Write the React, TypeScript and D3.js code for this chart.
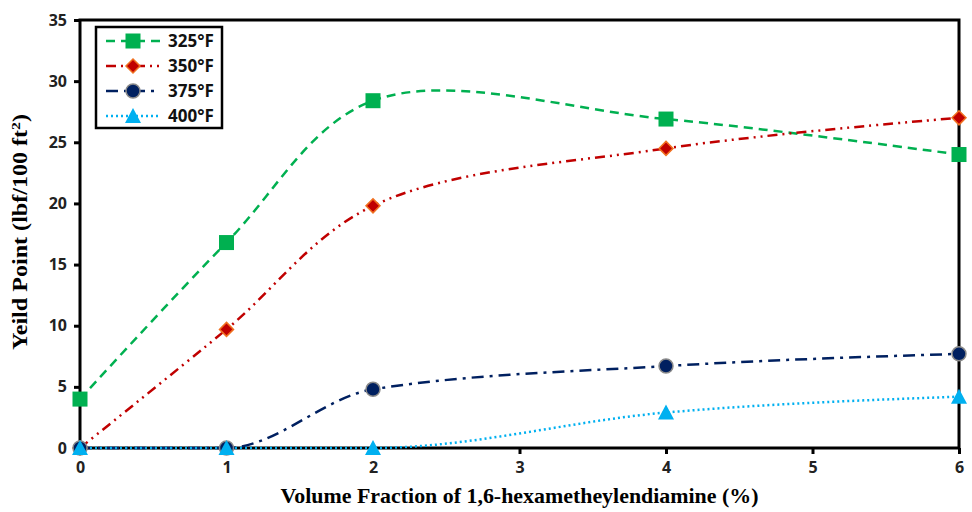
import React, { useEffect, useRef } from 'react';
import * as d3 from 'd3';

const xValues = [0, 1, 2, 4, 6];
const yield325 = [4.0, 16.8, 28.4, 26.9, 24.0];
const yield350 = [0, 9.7, 19.8, 24.5, 27.0];
const yield375 = [0, 0, 4.8, 6.7, 7.7];
const yield400 = [0, 0, 0, 2.9, 4.2];
const xTicks = [0, 1, 2, 3, 4, 5, 6];
const yTicks = [0, 5, 10, 15, 20, 25, 30, 35];
const seriesNames = ['325°F', '350°F', '375°F', '400°F'];

const W = 972;
const H = 512;
const margin = { left: 80, right: 13, top: 20, bottom: 64 };

const styles = [
	{ color: '#00B050', dash: '9,6', width: 2.5, marker: 'square', curve: d3.curveCatmullRom.alpha(0.5) },
	{ color: '#C00000', dash: '10,5,2,5,2,5', width: 2.5, marker: 'diamond', curve: d3.curveCatmullRom.alpha(0.5) },
	{ color: '#002060', dash: '12,6,3,6', width: 2.5, marker: 'circle', curve: d3.curveMonotoneX },
	{ color: '#00B0F0', dash: '2,3', width: 2.5, marker: 'triangle', curve: d3.curveMonotoneX },
];

const drawMarker = (g, kind, x, y, color) => {
	if (kind === 'square') {
		g.append('rect').attr('x', x - 7.5).attr('y', y - 7.5).attr('width', 15).attr('height', 15)
			.attr('fill', color);
	} else if (kind === 'diamond') {
		g.append('path').attr('d', `M${ x },${ y - 7 }L${ x + 7 },${ y }L${ x },${ y + 7 }L${ x - 7 },${ y }Z`)
			.attr('fill', color).attr('stroke', '#F07020').attr('stroke-width', 1.5);
	} else if (kind === 'circle') {
		g.append('circle').attr('cx', x).attr('cy', y).attr('r', 7)
			.attr('fill', color).attr('stroke', '#8A8A8A').attr('stroke-width', 1.5);
	} else {
		g.append('path').attr('d', `M${ x },${ y - 8 }L${ x + 8 },${ y + 7 }L${ x - 8 },${ y + 7 }Z`)
			.attr('fill', color);
	}
};

const chart = (ref) => {
	const svg = d3.select(ref.current);
	svg.selectAll('*').remove();
	const x = d3.scaleLinear().domain([0, 6]).range([margin.left, W - margin.right]);
	const y = d3.scaleLinear().domain([0, 35]).range([H - margin.bottom, margin.top]);
	const series = [yield325, yield350, yield375, yield400];

	// frame
	svg.append('rect')
		.attr('x', x(0)).attr('y', y(35))
		.attr('width', x(6) - x(0)).attr('height', y(0) - y(35))
		.attr('fill', 'none').attr('stroke', '#000').attr('stroke-width', 3);

	const xAxis = svg.append('g').attr('transform', `translate(0,${ y(0) })`)
		.call(d3.axisBottom(x).tickValues(xTicks).tickSize(6).tickPadding(8).tickFormat(d3.format('d')));
	const yAxis = svg.append('g').attr('transform', `translate(${ x(0) },0)`)
		.call(d3.axisLeft(y).tickValues(yTicks).tickSize(6).tickPadding(7));
	[xAxis, yAxis].forEach((a) => {
		a.select('.domain').remove();
		a.selectAll('line').attr('stroke', '#000').attr('stroke-width', 3);
		a.selectAll('text').attr('font-family', 'Open Sans, sans-serif').attr('font-weight', 'bold')
			.attr('font-size', 16).attr('fill', '#222');
	});

	series.forEach((vals, k) => {
		const line = d3.line()
			.x((d, i) => x(xValues[i]))
			.y((d) => y(d))
			.curve(styles[k].curve);
		svg.append('path').datum(vals)
			.attr('d', line)
			.attr('fill', 'none')
			.attr('stroke', styles[k].color)
			.attr('stroke-width', styles[k].width)
			.attr('stroke-dasharray', styles[k].dash);
	});
	series.forEach((vals, k) => {
		const g = svg.append('g');
		vals.forEach((v, i) => drawMarker(g, styles[k].marker, x(xValues[i]), y(v), styles[k].color));
	});

	// legend
	const lg = svg.append('g');
	lg.append('rect').attr('x', 96).attr('y', 27).attr('width', 126).attr('height', 101)
		.attr('fill', '#fff').attr('stroke', '#000').attr('stroke-width', 2.5);
	seriesNames.forEach((name, k) => {
		const ly = 41 + k * 25;
		lg.append('line').attr('x1', 106).attr('x2', 160).attr('y1', ly).attr('y2', ly)
			.attr('stroke', styles[k].color).attr('stroke-width', styles[k].width)
			.attr('stroke-dasharray', styles[k].dash);
		drawMarker(lg, styles[k].marker, 133, ly, styles[k].color);
		lg.append('text').attr('x', 168).attr('y', ly + 6).text(name)
			.attr('font-family', 'Open Sans, sans-serif').attr('font-weight', 'bold')
			.attr('font-size', 17).attr('fill', '#111');
	});

	svg.append('text')
		.attr('x', (x(0) + x(6)) / 2).attr('y', 503)
		.attr('text-anchor', 'middle')
		.attr('font-family', 'Liberation Serif, serif').attr('font-weight', 'bold').attr('font-size', 21)
		.attr('textLength', 478).attr('lengthAdjust', 'spacingAndGlyphs')
		.text('Volume Fraction of 1,6-hexametheylendiamine (%)');

	const yt = svg.append('text')
		.attr('transform', `translate(27,${ (y(0) + y(35)) / 2 - 2 }) rotate(-90)`)
		.attr('text-anchor', 'middle')
		.attr('font-family', 'Liberation Serif, serif').attr('font-weight', 'bold').attr('font-size', 20)
		.attr('textLength', 236).attr('lengthAdjust', 'spacingAndGlyphs');
	yt.append('tspan').text('Yeild Point (lbf/100 ft');
	yt.append('tspan').attr('dy', -7).attr('font-size', 13).text('2');
	yt.append('tspan').attr('dy', 7).text(')');
};

const App = () => {
	const ref = useRef(null);
	useEffect(() => chart(ref), []);
	return (
		<div style={ { position: 'absolute', left: 0, top: 0 } }>
			<svg ref={ ref } width={ W } height={ H } style={ { display: 'block', background: '#fff' } }/>
		</div>
	);
};

export default App;
